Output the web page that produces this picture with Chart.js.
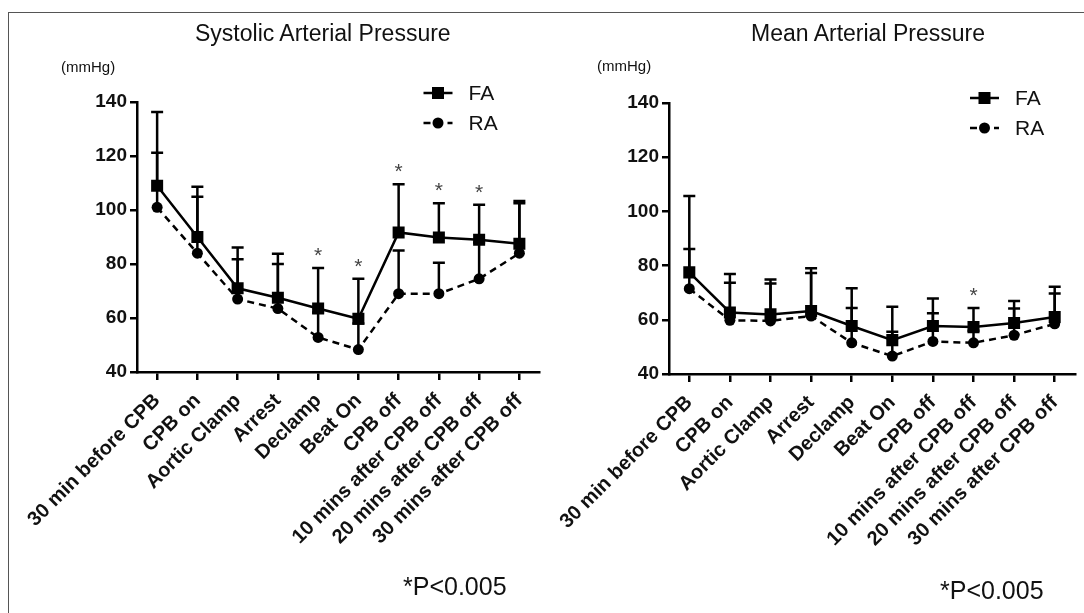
<!DOCTYPE html>
<html lang="en">
<head>
<meta charset="UTF-8">
<title>Systolic / Mean Arterial Pressure</title>
<script src="https://cdn.jsdelivr.net/npm/chart.js"></script>
<style>
  body { margin: 0; background: #fff; font-family: 'Liberation Sans', Arial, sans-serif; }
  #wrap { position: relative; width: 1084px; height: 613px; overflow: hidden; }
  #frame { position: absolute; left: 8px; top: 12px; width: 1100px; height: 640px;
           border-top: 1.5px solid #555; border-left: 1.5px solid #555; }
  canvas { position: absolute; top: 0; }
  .txt { position: absolute; white-space: nowrap; color: #111; line-height: 1; }
</style>
</head>
<body>
<div id="wrap">
  <div id="frame"></div>
  <canvas id="sapChart" width="548" height="613" style="left:0"></canvas>
  <canvas id="mapChart" width="536" height="613" style="left:548px"></canvas>

  <div class="txt" style="left:195px; top:22px; font-size:23px;">Systolic Arterial Pressure</div>
  <div class="txt" style="left:751px; top:22px; font-size:23px;">Mean Arterial Pressure</div>
  <div class="txt" style="left:61px; top:59px; font-size:15px;">(mmHg)</div>
  <div class="txt" style="left:597px; top:58px; font-size:15px;">(mmHg)</div>
  <div class="txt" style="left:403px; top:574px; font-size:25px;">*P&lt;0.005</div>
  <div class="txt" style="left:940px; top:578px; font-size:25px;">*P&lt;0.005</div>
</div>

<script>
// categories
const labels = ['30 min before CPB', 'CPB on', 'Aortic Clamp', 'Arrest', 'Declamp', 'Beat On',
                'CPB off', '10 mins after CPB off', '20 mins after CPB off', '30 mins after CPB off'];

// y axis
const yMin = 40, yMax = 140, yStep = 20;

// Systolic arterial pressure (mean and upper end of error bar)
const sapFA      = [109, 90, 71, 67.5, 63.5, 59.7, 91.7, 89.8, 89, 87.5];
const sapFAUpper = [136.3, 108.6, 86.1, 83.8, 78.5, 74.5, 109.5, 102.5, 101.9, 103.3];
const sapRA      = [101, 84, 67, 63.5, 52.8, 48.3, 69, 69, 74.5, 84];
const sapRAUpper = [121.2, 104.9, 81.8, 80, 62, 58, 85, 80.5, 88, 102.5];
const sapSig     = [4, 5, 6, 7, 8];

// Mean arterial pressure
const mapFA      = [77.5, 62.7, 62, 63.2, 57.7, 52.5, 57.7, 57.3, 58.8, 61];
const mapFAUpper = [105.7, 76.9, 74.9, 79, 71.6, 64.8, 67.9, 64.4, 66.9, 72.2];
const mapRA      = [71.5, 59.8, 59.6, 61.4, 51.5, 46.6, 52, 51.5, 54.3, 58.5];
const mapRAUpper = [86.1, 73.7, 73.4, 77.3, 64.4, 55.6, 62.4, 56, 64.2, 69.7];
const mapSig     = [7];

const seriesNames = ['FA', 'RA'];

// vertical (upper) error bars with caps, drawn under the points
const errorBars = {
  id: 'errorBars',
  beforeDatasetsDraw(chart, args, opts) {
    const { ctx, scales: { x, y } } = chart;
    ctx.save();
    ctx.strokeStyle = '#000';
    ctx.lineWidth = opts.width;
    chart.data.datasets.forEach(ds => {
      ds.upper.forEach((u, i) => {
        const px = x.getPixelForValue(i);
        const y0 = y.getPixelForValue(ds.data[i]);
        const y1 = y.getPixelForValue(u);
        ctx.beginPath();
        ctx.moveTo(px, y0); ctx.lineTo(px, y1);
        ctx.moveTo(px - opts.cap, y1); ctx.lineTo(px + opts.cap, y1);
        ctx.stroke();
      });
    });
    ctx.restore();
  }
};

// asterisks above significant time points
const sigStars = {
  id: 'sigStars',
  afterDatasetsDraw(chart, args, opts) {
    const { ctx, scales: { x, y } } = chart;
    ctx.save();
    ctx.fillStyle = '#444';
    ctx.font = '21px "Liberation Sans", Arial, sans-serif';
    ctx.textAlign = 'center';
    ctx.textBaseline = 'alphabetic';
    opts.indices.forEach(i => {
      const top = Math.max(...chart.data.datasets.map(ds => ds.upper[i]));
      ctx.fillText('*', x.getPixelForValue(i), y.getPixelForValue(top) - opts.gap);
    });
    ctx.restore();
  }
};

// legend with line sample + marker, like the original
const lineLegend = {
  id: 'lineLegend',
  afterDraw(chart, args, opts) {
    const { ctx, chartArea } = chart;
    ctx.save();
    chart.data.datasets.forEach((ds, k) => {
      const x0 = chartArea.right - opts.dx;
      const yy = chartArea.top + opts.dy + k * opts.rowGap;
      ctx.strokeStyle = '#000';
      ctx.lineWidth = 2.5;
      ctx.setLineDash(ds.borderDash || []);
      ctx.beginPath(); ctx.moveTo(x0, yy); ctx.lineTo(x0 + 29, yy); ctx.stroke();
      ctx.setLineDash([]);
      ctx.fillStyle = '#000';
      const cx = x0 + 14.5;
      if (ds.pointStyle === 'rect') {
        ctx.fillRect(cx - 6, yy - 6, 12, 12);
      } else {
        ctx.beginPath(); ctx.arc(cx, yy, 5.5, 0, Math.PI * 2); ctx.fill();
      }
      ctx.fillStyle = '#111';
      ctx.font = '21px "Liberation Sans", Arial, sans-serif';
      ctx.textBaseline = 'middle';
      ctx.fillText(ds.label, x0 + 45, yy + 1);
    });
    ctx.restore();
  }
};

function makeChart(id, fa, faUp, ra, raUp, sig, pad, yWidth, xHeight, legendPos) {
  return new Chart(document.getElementById(id), {
    type: 'line',
    data: {
      labels: labels,
      datasets: [
        { label: seriesNames[0], data: fa, upper: faUp, borderColor: '#000', backgroundColor: '#000',
          borderWidth: 2.5, pointStyle: 'rect', pointRadius: 8.5, pointBorderWidth: 0, tension: 0 },
        { label: seriesNames[1], data: ra, upper: raUp, borderColor: '#000', backgroundColor: '#000',
          borderWidth: 2.5, borderDash: [7, 5], pointStyle: 'circle', pointRadius: 5.5, pointBorderWidth: 0, tension: 0 }
      ]
    },
    options: {
      responsive: false,
      animation: false,
      layout: { padding: pad },
      scales: {
        x: {
          type: 'category',
          offset: true,
          border: { display: true, color: '#000', width: 2.5 },
          grid: { drawOnChartArea: false, drawTicks: true, tickLength: 8, color: '#000', lineWidth: 2.5 },
          ticks: { autoSkip: false, minRotation: 45, maxRotation: 45, color: '#111', padding: 9,
                   font: { family: '"Liberation Sans", Arial, sans-serif', size: 20, weight: 'bold' } },
          afterFit(s) { s.height = xHeight; s.paddingLeft = 0; s.paddingRight = 0; }
        },
        y: {
          min: yMin, max: yMax,
          border: { display: true, color: '#000', width: 2.5 },
          grid: { drawOnChartArea: false, drawTicks: true, tickLength: 7, color: '#000', lineWidth: 2.5 },
          ticks: { stepSize: yStep, color: '#111', padding: 3,
                   font: { family: '"Liberation Sans", Arial, sans-serif', size: 19, weight: 'bold' } },
          afterFit(s) { s.width = yWidth; s.paddingTop = 0; s.paddingBottom = 0; }
        }
      },
      plugins: {
        legend: { display: false },
        tooltip: { enabled: false },
        errorBars: { width: 2.5, cap: 6 },
        sigStars: { indices: sig, gap: 6 },
        lineLegend: legendPos
      }
    },
    plugins: [errorBars, sigStars, lineLegend]
  });
}

makeChart('sapChart', sapFA, sapFAUpper, sapRA, sapRAUpper, sapSig,
          { left: 0, top: 102, right: 5, bottom: 0 }, 137, 241,
          { dx: 116, dy: -9, rowGap: 30 });
makeChart('mapChart', mapFA, mapFAUpper, mapRA, mapRAUpper, mapSig,
          { left: 0, top: 103, right: 9, bottom: 0 }, 121, 239,
          { dx: 105, dy: -5, rowGap: 30 });
</script>
</body>
</html>
